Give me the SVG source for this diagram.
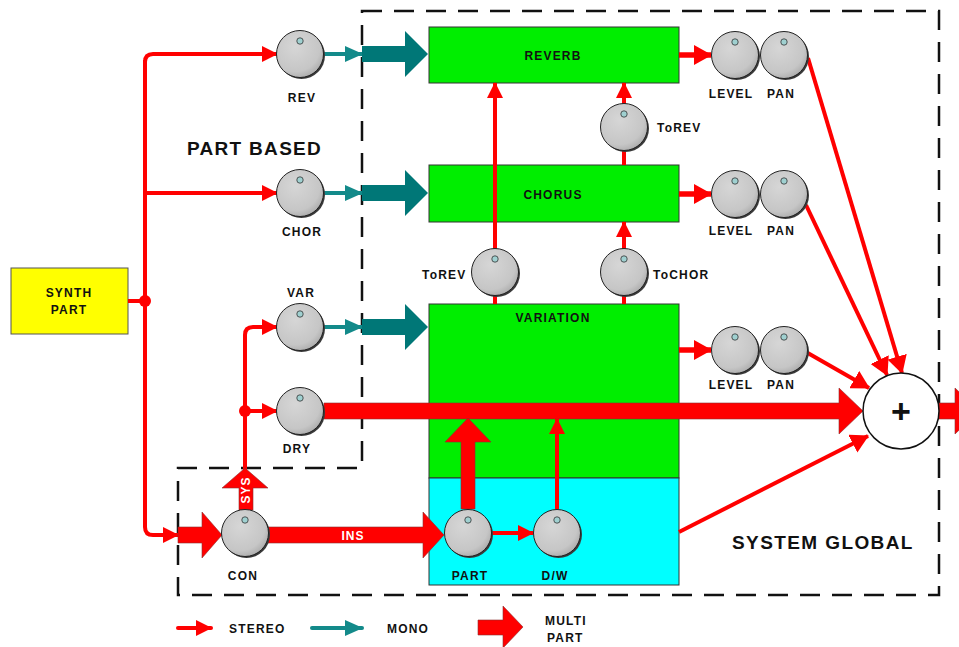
<svg xmlns="http://www.w3.org/2000/svg" width="959" height="647" viewBox="0 0 959 647">
<style>
text{font-family:"Liberation Sans",Arial,sans-serif;font-weight:bold;fill:#111}
.lbl{font-size:12px;letter-spacing:1.2px;text-anchor:middle}
.lbs{font-size:12px;letter-spacing:1.2px}
.big{font-size:19px;letter-spacing:1.3px}
.wt{fill:#fff;font-size:12px;letter-spacing:1px;text-anchor:middle}
.red{stroke:#ff0000;stroke-width:4;fill:none}
.redb{stroke:#ff0000;stroke-width:5.5;fill:none}
.teal{stroke:#138a8a;stroke-width:4;fill:none}
.fx{fill:#00ee00;stroke:#333;stroke-width:1}
.ins{fill:#00ffff;stroke:#333;stroke-width:1}
.multi{fill:#ff0000;stroke:#8a3030;stroke-width:0.6}
.mteal{fill:#007777}
.dash{fill:none;stroke:#111;stroke-width:2.5;stroke-dasharray:20 12}
</style>
<defs>
<marker id="ar" markerUnits="userSpaceOnUse" viewBox="0 0 16 16" refX="15" refY="8" markerWidth="16" markerHeight="16" orient="auto"><path d="M0,0L16,8L0,16z" fill="#ff0000"/></marker>
<marker id="arb" markerUnits="userSpaceOnUse" viewBox="0 0 18 20" refX="17" refY="10" markerWidth="18" markerHeight="20" orient="auto"><path d="M0,0L18,10L0,20z" fill="#ff0000"/></marker>
<marker id="at" markerUnits="userSpaceOnUse" viewBox="0 0 18 16" refX="17" refY="8" markerWidth="18" markerHeight="16" orient="auto"><path d="M0,0L18,8L0,16z" fill="#138a8a"/></marker>
<radialGradient id="kg" cx="0.4" cy="0.35" r="0.7"><stop offset="0" stop-color="#d6d6d6"/><stop offset="0.75" stop-color="#c6c6c6"/><stop offset="1" stop-color="#aaaaaa"/></radialGradient>
<g id="knob"><circle cx="1.5" cy="1.5" r="23.5" fill="#3a3a3a"/><circle r="23.5" fill="url(#kg)" stroke="#222" stroke-width="1"/><circle cx="0" cy="-13" r="3.2" fill="#9fd0d0" stroke="#333" stroke-width="0.8"/></g>
</defs>

<polygon class="dash" points="362,11 939,11 939,595 178,595 178,468 362,468"/>

<g id="synth"><rect x="11" y="268" width="117" height="66" fill="#ffff00" stroke="#555" stroke-width="1"/>
<text class="lbl" x="69" y="297">SYNTH</text><text class="lbl" x="69" y="314">PART</text></g>

<g id="reverb"><rect class="fx" x="429" y="27" width="250" height="56"/><text class="lbl" x="553" y="60">REVERB</text></g>
<g id="chorus"><rect class="fx" x="429" y="165" width="250" height="57"/><text class="lbl" x="553" y="199">CHORUS</text></g>
<g id="variation"><rect class="fx" x="429" y="304" width="250" height="174"/><text class="lbl" x="553" y="322">VARIATION</text></g>
<g id="insertion"><rect class="ins" x="429" y="478" width="250" height="107"/></g>

<g id="connectors">
<path class="red" d="M145,70 V62 Q145,54 153,54 H277" marker-end="url(#ar)"/>
<path class="red" d="M145,60 V527 Q145,535 153,535 H178" marker-end="url(#ar)"/>
<path class="red" d="M145,193 H277" marker-end="url(#ar)"/>
<path class="red" d="M128,301 H145"/>
<circle cx="145" cy="301" r="6" fill="#ff0000"/>
<path class="red" d="M245,470 V335 Q245,327 253,327 H277" marker-end="url(#ar)"/>
<path class="red" d="M245,411 H277" marker-end="url(#ar)"/>
<circle cx="245" cy="411" r="6" fill="#ff0000"/>
<path class="teal" d="M324,54 H362" marker-end="url(#at)"/>
<path class="teal" d="M324,193 H362" marker-end="url(#at)"/>
<path class="teal" d="M324,327 H362" marker-end="url(#at)"/>
<polygon class="mteal" points="362,46 405,46 405,31 428,54 405,77 405,62 362,62"/>
<polygon class="mteal" points="362,185 405,185 405,170 428,193 405,216 405,201 362,201"/>
<polygon class="mteal" points="362,319 405,319 405,304 428,327 405,350 405,335 362,335"/>
<path class="redb" d="M679,55 H711" marker-end="url(#arb)"/>
<path class="redb" d="M679,194 H711" marker-end="url(#arb)"/>
<path class="redb" d="M679,350 H711" marker-end="url(#arb)"/>
<path class="red" d="M495,304 V83" marker-end="url(#ar)"/>
<path class="red" d="M624,304 V222" marker-end="url(#ar)"/>
<path class="red" d="M624,165 V83" marker-end="url(#ar)"/>
<path class="red" d="M808,58 L902,373" marker-end="url(#arb)"/>
<path class="red" d="M806,205 L887,375" marker-end="url(#arb)"/>
<path class="red" d="M806,352 L869,388" marker-end="url(#arb)"/>
<path class="red" d="M679,532 L868,436" marker-end="url(#arb)"/>
<polygon class="multi" points="324,403 839,403 839,388 863,411 839,434 839,419 324,419"/>
<polygon class="multi" points="178,527 202,527 202,512 222,535 202,558 202,543 178,543"/>
<polygon class="multi" points="268,527 423,527 423,512 444,535 423,558 423,543 268,543"/>
<polygon class="multi" points="461,509 461,442 445,442 468,418 491,442 475,442 475,509"/>
<polygon class="multi" points="239,510 239,488 222,488 245,468 268,488 253,488 253,510"/>
<polygon class="multi" points="939,403 955,403 955,388 979,411 955,434 955,419 939,419"/>
<path class="red" d="M492,533 H533" marker-end="url(#ar)"/>
<path class="red" d="M557,509 V419" marker-end="url(#ar)"/>
</g>

<g id="sum"><circle cx="901" cy="411" r="38" fill="#fff" stroke="#111" stroke-width="1.5"/><text x="901" y="423" font-size="34" text-anchor="middle">+</text></g>

<g id="k-rev"><use href="#knob" x="300" y="54"/><text class="lbl" x="302" y="102">REV</text></g>
<g id="k-chor"><use href="#knob" x="300" y="193"/><text class="lbl" x="302" y="236">CHOR</text></g>
<g id="k-var"><use href="#knob" x="300" y="327"/><text class="lbl" x="301" y="297">VAR</text></g>
<g id="k-dry"><use href="#knob" x="300" y="411"/><text class="lbl" x="297" y="453">DRY</text></g>
<g id="k-con"><use href="#knob" x="245" y="533"/><text class="lbl" x="243" y="580">CON</text></g>
<g id="k-part"><use href="#knob" x="468" y="533"/><text class="lbl" x="470" y="580">PART</text></g>
<g id="k-dw"><use href="#knob" x="557" y="533"/><text class="lbl" x="555" y="580">D/W</text></g>
<g id="k-torev1"><use href="#knob" x="495" y="272"/><text class="lbs" x="422" y="279">ToREV</text></g>
<g id="k-tochor"><use href="#knob" x="624" y="272"/><text class="lbs" x="653" y="279">ToCHOR</text></g>
<g id="k-torev2"><use href="#knob" x="624" y="127"/><text class="lbs" x="657" y="132">ToREV</text></g>
<g id="k-lev1"><use href="#knob" x="735" y="55"/><text class="lbl" x="731" y="98">LEVEL</text></g>
<g id="k-pan1"><use href="#knob" x="784" y="55"/><text class="lbl" x="781" y="98">PAN</text></g>
<g id="k-lev2"><use href="#knob" x="735" y="194"/><text class="lbl" x="731" y="235">LEVEL</text></g>
<g id="k-pan2"><use href="#knob" x="784" y="194"/><text class="lbl" x="781" y="235">PAN</text></g>
<g id="k-lev3"><use href="#knob" x="735" y="350"/><text class="lbl" x="731" y="389">LEVEL</text></g>
<g id="k-pan3"><use href="#knob" x="784" y="350"/><text class="lbl" x="781" y="389">PAN</text></g>

<text class="wt" x="353" y="540">INS</text>
<text class="wt" transform="translate(250,490) rotate(-90)">SYS</text>

<text class="big" x="187" y="155">PART BASED</text>
<text class="big" x="732" y="549" style="letter-spacing:1.4px">SYSTEM GLOBAL</text>

<g id="legend">
<path class="red" d="M178,628 H211" marker-end="url(#ar)" stroke-linecap="round"/>
<text class="lbs" x="229" y="633">STEREO</text>
<path class="teal" d="M312,628 H362" marker-end="url(#at)" stroke-linecap="round"/>
<text class="lbs" x="387" y="633">MONO</text>
<polygon class="multi" points="478,620 503,620 503,606 523,627 503,648 503,635 478,635"/>
<text class="lbs" x="545" y="625">MULTI</text>
<text class="lbs" x="547" y="642">PART</text>
</g>
</svg>
